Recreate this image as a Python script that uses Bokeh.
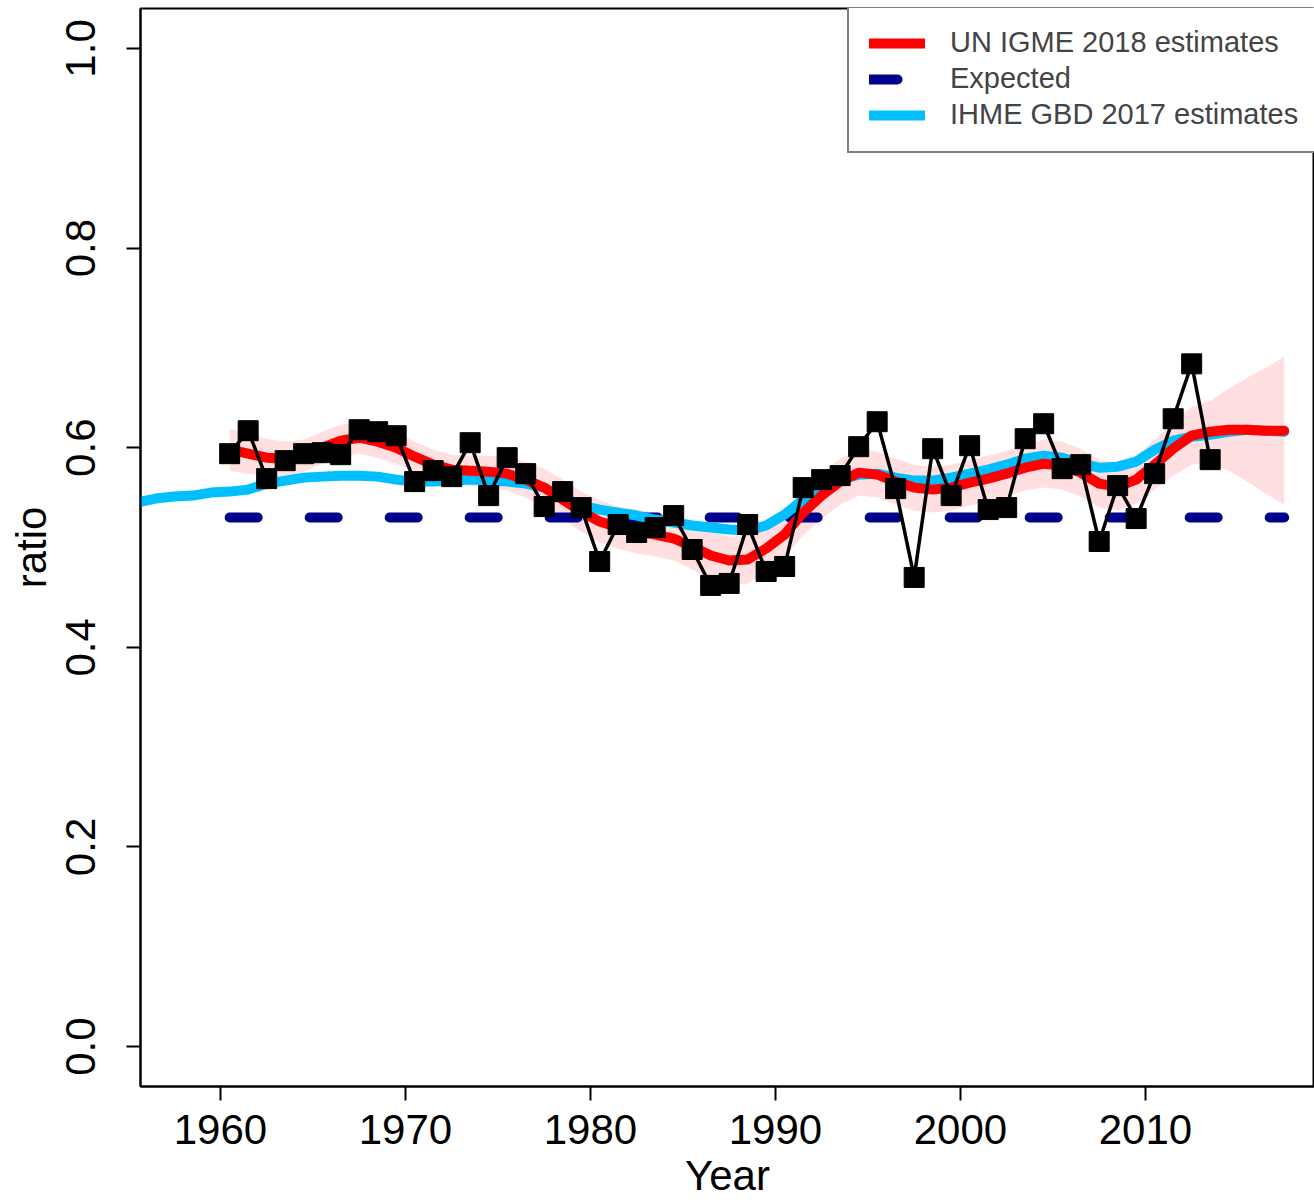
from bokeh.plotting import figure
from bokeh.models import Range1d, FixedTicker, Legend, LegendItem, PrintfTickFormatter
from bokeh.embed import file_html
from bokeh.resources import INLINE

# ---- data ----
obs_year = [y + 0.5 for y in range(1960, 2014)]
obs_ratio = [0.594, 0.617, 0.569, 0.587, 0.594, 0.595, 0.593, 0.618, 0.616, 0.612,
             0.566, 0.577, 0.571, 0.605, 0.552, 0.590, 0.574, 0.541, 0.556, 0.540,
             0.486, 0.523, 0.515, 0.520, 0.532, 0.498, 0.462, 0.464, 0.523, 0.476,
             0.481, 0.560, 0.568, 0.572, 0.601, 0.626, 0.559, 0.470, 0.599, 0.552,
             0.602, 0.538, 0.540, 0.609, 0.624, 0.579, 0.583, 0.506, 0.562, 0.529,
             0.574, 0.629, 0.684, 0.588]

un_year = [y + 0.5 for y in range(1960, 2018)]
un_ratio = [0.598, 0.594, 0.590, 0.589, 0.592, 0.600, 0.607, 0.610, 0.606, 0.600,
            0.591, 0.583, 0.578, 0.577, 0.576, 0.574, 0.568, 0.560, 0.548, 0.536,
            0.526, 0.520, 0.516, 0.513, 0.509, 0.501, 0.492, 0.487, 0.488, 0.499,
            0.513, 0.535, 0.552, 0.566, 0.575, 0.573, 0.566, 0.560, 0.558, 0.560,
            0.565, 0.569, 0.574, 0.580, 0.584, 0.582, 0.575, 0.564, 0.561, 0.568,
            0.583, 0.599, 0.612, 0.616, 0.618, 0.618, 0.617, 0.617]
un_halfwidth = [0.021, 0.020, 0.019, 0.017, 0.016, 0.016, 0.016, 0.016, 0.016, 0.016,
                0.015, 0.015, 0.015, 0.015, 0.016, 0.017, 0.018, 0.019, 0.020, 0.020,
                0.021, 0.021, 0.022, 0.022, 0.022, 0.023, 0.024, 0.024, 0.024, 0.024,
                0.023, 0.023, 0.023, 0.023, 0.023, 0.023, 0.023, 0.023, 0.023, 0.023,
                0.023, 0.023, 0.023, 0.023, 0.024, 0.024, 0.024, 0.024, 0.024, 0.024,
                0.025, 0.027, 0.029, 0.031, 0.041, 0.052, 0.063, 0.074]

ihme_year = [y + 0.5 for y in range(1955, 2018)]
ihme_ratio = [0.545, 0.549, 0.551, 0.552, 0.555,
              0.556, 0.558, 0.564, 0.567, 0.570, 0.571, 0.572, 0.572, 0.571, 0.568,
              0.566, 0.566, 0.567, 0.568, 0.567, 0.566, 0.564, 0.560, 0.550, 0.542,
              0.538, 0.535, 0.532, 0.528, 0.525, 0.522, 0.520, 0.518, 0.517, 0.522,
              0.533, 0.548, 0.560, 0.568, 0.573, 0.574, 0.570, 0.567, 0.567, 0.570,
              0.574, 0.578, 0.583, 0.589, 0.592, 0.590, 0.584, 0.580, 0.581, 0.586,
              0.598, 0.607, 0.611, 0.613, 0.616, 0.618, 0.617, 0.616]

expected_year = [1960.5, 2017.5]
expected_ratio = [0.530, 0.530]

x_ticks = [1960, 1970, 1980, 1990, 2000, 2010]
y_ticks = [0.0, 0.2, 0.4, 0.6, 0.8, 1.0]

un_lower = [v - h for v, h in zip(un_ratio, un_halfwidth)]
un_upper = [v + h for v, h in zip(un_ratio, un_halfwidth)]

AXFONT = "Liberation Sans"
AXSIZE = "42px"

p = figure(width=1314, height=1203,
           x_range=Range1d(1955.68, 2019.14), y_range=Range1d(-0.04, 1.04),
           output_backend="svg", toolbar_location=None,
           min_border_left=140, min_border_right=0, min_border_top=8, min_border_bottom=117)
p.grid.visible = False
p.outline_line_color = "black"
p.outline_line_width = 2
p.background_fill_color = "white"
p.border_fill_color = "white"

p.varea(x=un_year, y1=un_lower, y2=un_upper, fill_color="#FFDFDF")
r_exp = p.line(expected_year, expected_ratio, line_color="#00008B", line_width=10,
               line_dash="28 52", line_cap="round")
r_blue = p.line(ihme_year, ihme_ratio, line_color="#00BFFF", line_width=10, line_cap="round",
                line_join="round")
r_red = p.line(un_year, un_ratio, line_color="#FF0000", line_width=10, line_cap="round",
               line_join="round")
p.line(obs_year, obs_ratio, line_color="black", line_width=3.5)
p.scatter(obs_year, obs_ratio, marker="square", size=20, color="black")

for ax in (p.xaxis[0], p.yaxis[0]):
    ax.major_tick_out = 14
    ax.major_tick_in = 0
    ax.minor_tick_line_color = None
    ax.axis_line_width = 2
    ax.major_tick_line_width = 2
    ax.major_label_text_font = AXFONT
    ax.major_label_text_font_size = AXSIZE
    ax.major_label_text_color = "black"
    ax.axis_label_text_font = AXFONT
    ax.axis_label_text_font_size = AXSIZE
    ax.axis_label_text_font_style = "normal"
    ax.axis_label_text_color = "black"

p.xaxis.ticker = FixedTicker(ticks=x_ticks)
p.yaxis.ticker = FixedTicker(ticks=y_ticks)
p.yaxis.formatter = PrintfTickFormatter(format="%.1f")
p.yaxis.major_label_orientation = "vertical"
p.xaxis.axis_label = "Year"
p.yaxis.axis_label = "ratio"
p.xaxis.major_label_standoff = 14
p.xaxis.axis_label_standoff = 5
p.yaxis.major_label_standoff = 31
p.yaxis.axis_label_standoff = 9

legend = Legend(items=[LegendItem(label="UN IGME 2018 estimates", renderers=[r_red]),
                       LegendItem(label="Expected", renderers=[r_exp]),
                       LegendItem(label="IHME GBD 2017 estimates", renderers=[r_blue])],
                location=(707, 933))
legend.padding = 20
legend.spacing = 3
legend.margin = 0
legend.glyph_width = 56
legend.glyph_height = 30
legend.label_standoff = 25
legend.label_text_font = "Liberation Sans"
legend.label_text_font_size = "29px"
legend.border_line_color = "black"
legend.border_line_width = 2
legend.background_fill_color = "white"
legend.background_fill_alpha = 1.0
p.add_layout(legend, "center")

open("out.html", "w").write(file_html(p, INLINE))
